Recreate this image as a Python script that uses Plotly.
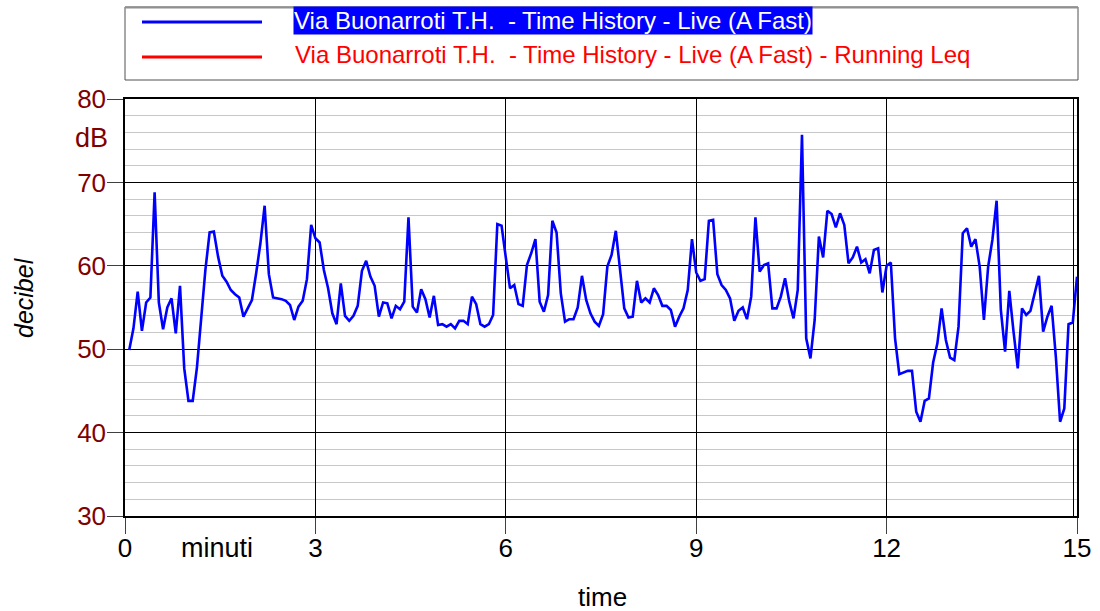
import numpy as np
import plotly.graph_objects as go

# ---- data ----
sample_seconds = 4
levels_db = [
    49.9, 52.5, 56.9, 52.2, 55.6, 56.2, 68.8, 55.6, 52.4, 55.0,
    56.1, 51.9, 57.6, 47.7, 43.8, 43.8, 47.8, 53.5, 59.5, 64.0,
    64.1, 61.1, 58.8, 58.1, 57.1, 56.6, 56.2, 53.9, 54.9, 55.9,
    59.1, 62.7, 67.2, 59.0, 56.2, 56.1, 56.0, 55.8, 55.3, 53.5,
    55.1, 55.8, 58.4, 64.9, 63.3, 62.8, 59.5, 57.3, 54.3, 53.0,
    57.9, 54.0, 53.4, 54.0, 55.2, 59.4, 60.6, 58.7, 57.6, 53.9,
    55.6, 55.5, 53.7, 55.2, 54.8, 55.7, 65.8, 55.1, 54.4, 57.2,
    56.0, 53.8, 56.4, 52.9, 53.0, 52.7, 53.0, 52.5, 53.4, 53.4,
    53.0, 56.3, 55.4, 53.0, 52.7, 53.0, 54.1, 65.0, 64.8, 61.0,
    57.3, 57.7, 55.4, 55.2, 60.1, 61.5, 63.2, 55.7, 54.5, 56.5,
    65.4, 64.0, 56.7, 53.3, 53.6, 53.6, 55.0, 58.8, 55.9, 54.3,
    53.3, 52.8, 54.2, 59.9, 61.3, 64.2, 59.5, 54.9, 53.8, 53.9,
    58.2, 55.6, 56.1, 55.6, 57.3, 56.5, 55.2, 55.2, 54.7, 52.7,
    53.9, 54.9, 57.1, 63.2, 59.2, 58.2, 58.4, 65.4, 65.5, 59.0,
    57.7, 57.1, 56.1, 53.4, 54.6, 55.0, 53.6, 56.3, 65.8, 59.3,
    60.1, 60.3, 54.9, 54.9, 56.3, 58.5, 55.7, 53.7, 57.1, 75.7,
    51.3, 48.9, 53.5, 63.5, 61.0, 66.6, 66.2, 64.6, 66.3, 64.9,
    60.3, 61.0, 62.3, 60.4, 60.8, 59.1, 61.9, 62.1, 56.8, 60.0,
    60.4, 51.3, 47.0, 47.2, 47.4, 47.4, 42.5, 41.3, 43.8, 44.1,
    48.4, 50.7, 54.9, 51.1, 49.0, 48.7, 52.7, 63.9, 64.5, 62.3,
    63.2, 59.9, 53.5, 59.9, 63.1, 67.8, 54.7, 49.7, 57.0, 52.1,
    47.7, 54.9, 54.1, 54.6, 56.9, 58.8, 52.1, 53.9, 55.2, 49.1,
    41.3, 42.9, 53.0, 53.2, 58.7,
]
time_min = (np.arange(1, len(levels_db) + 1) * sample_seconds) / 60.0

x_ticks = [0, 3, 6, 9, 12, 15]
y_ticks = [30, 40, 50, 60, 70, 80]
series_names = [
    "Via Buonarroti T.H.  - Time History - Live (A Fast)",
    "Via Buonarroti T.H.  - Time History - Live (A Fast) - Running Leq",
]

# ---- layout helpers (pixel -> paper) ----
W, H = 1100, 611
L, R, T, B = 125, 1077, 99, 516


def px(x):
    return (x - L) / (R - L)


def py(y):
    return (B - y) / (B - T)


FONT = "Liberation Sans, Arial, sans-serif"
DARKRED = "#800000"

fig = go.Figure()
fig.add_trace(go.Scatter(
    x=time_min, y=levels_db, mode="lines",
    line=dict(color="#0000FF", width=2.6),
    name=series_names[0], showlegend=False,
))

fig.update_layout(
    width=W, height=H,
    margin=dict(l=L, r=W - R, t=T, b=H - B, autoexpand=False),
    paper_bgcolor="white", plot_bgcolor="white",
    font=dict(family=FONT, size=26, color="black"),
    showlegend=False,
)

fig.update_xaxes(
    range=[0, 15], tickvals=x_ticks, ticktext=[str(v) for v in x_ticks],
    showgrid=True, gridcolor="black", gridwidth=1.3,
    showline=True, linecolor="black", linewidth=1.5, mirror=True,
    ticks="outside", ticklen=16, tickcolor="#404040", tickwidth=1,
    ticklabelstandoff=-8,
    tickfont=dict(family=FONT, size=26, color="black"),
    zeroline=False,
)
fig.update_yaxes(
    range=[30, 80], tickvals=y_ticks, ticktext=[str(v) for v in y_ticks],
    showgrid=True, gridcolor="black", gridwidth=1.3,
    minor=dict(dtick=2, showgrid=True, gridcolor="#C8C8C8", gridwidth=1.2, ticks=""),
    showline=True, linecolor="black", linewidth=1.5, mirror=True,
    ticks="outside", ticklen=16, tickcolor="#404040", tickwidth=1,
    ticklabelstandoff=-4,
    tickfont=dict(family=FONT, size=26, color=DARKRED),
    zeroline=False,
)

shapes = [
    # legend box
    dict(type="rect", xref="paper", yref="paper", x0=px(125), x1=px(1078),
         y0=py(80), y1=py(7), line=dict(color="#505050", width=1), fillcolor="white", layer="below"),
    dict(type="line", xref="paper", yref="paper", x0=px(125), x1=px(1078),
         y0=py(7.5), y1=py(7.5), line=dict(color="#909090", width=2)),
    dict(type="line", xref="paper", yref="paper", x0=px(142), x1=px(262),
         y0=py(22), y1=py(22), line=dict(color="#0000FF", width=3)),
    dict(type="line", xref="paper", yref="paper", x0=px(142), x1=px(262),
         y0=py(57), y1=py(57), line=dict(color="#FF0000", width=3)),
    # double right edge
    dict(type="line", xref="paper", yref="paper", x0=px(1073.5), x1=px(1073.5),
         y0=0, y1=1, line=dict(color="black", width=1)),
]

annotations = [
    dict(text=series_names[0], xref="paper", yref="paper", x=px(293), y=py(20.5),
         xanchor="left", yanchor="middle", showarrow=False,
         font=dict(family=FONT, size=24, color="white"), bgcolor="#0000FF", borderpad=0),
    dict(text=series_names[1], xref="paper", yref="paper", x=px(293), y=py(55),
         xanchor="left", yanchor="middle", showarrow=False,
         font=dict(family=FONT, size=24, color="#FF0000")),
    dict(text="dB", xref="paper", yref="paper", x=px(91), y=py(138),
         xanchor="center", yanchor="middle", showarrow=False,
         font=dict(family=FONT, size=27, color=DARKRED)),
    dict(text="<i>decibel</i>", xref="paper", yref="paper", x=px(24), y=py(298),
         xanchor="center", yanchor="middle", showarrow=False, textangle=-90,
         font=dict(family=FONT, size=25, color="black")),
    dict(text="minuti", xref="paper", yref="paper", x=px(217), y=py(548),
         xanchor="center", yanchor="middle", showarrow=False,
         font=dict(family=FONT, size=27, color="black")),
    dict(text="time", xref="paper", yref="paper", x=px(602), y=py(597),
         xanchor="center", yanchor="middle", showarrow=False,
         font=dict(family=FONT, size=26, color="black")),
]

fig.update_layout(shapes=shapes, annotations=annotations)
fig.write_html(
    "out.html",
    config={"displayModeBar": False},
    post_script="document.body.style.margin='0';document.body.style.overflow='hidden';",
)
